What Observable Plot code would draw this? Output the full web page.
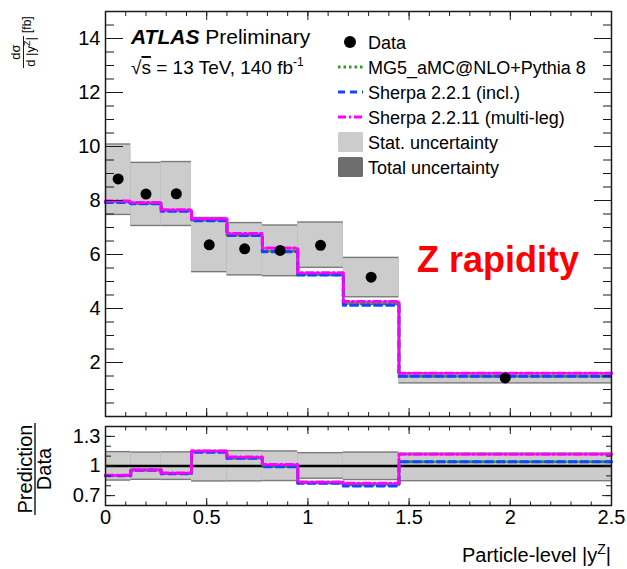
<!DOCTYPE html>
<html><head><meta charset="utf-8">
<script src="https://cdn.jsdelivr.net/npm/d3@7"></script>
<script src="https://cdn.jsdelivr.net/npm/@observablehq/plot@0.6"></script>
<style>
html,body{margin:0;padding:0;background:#fff;}
#wrap{position:relative;width:627px;height:569px;overflow:hidden;background:#fff;}
#wrap > svg{position:absolute;left:0;}
</style></head><body><div id="wrap"></div>
<script>
// ---- data ----
const binEdges   = [0, 0.125, 0.275, 0.425, 0.6, 0.775, 0.95, 1.175, 1.45, 2.5];
const dataValues = [8.80, 8.24, 8.25, 6.36, 6.21, 6.15, 6.34, 5.16, 1.43];
const uncHi      = [10.10, 9.42, 9.45, 7.38, 7.19, 7.10, 7.21, 5.90, 1.62];
const uncLo      = [7.44, 7.03, 7.03, 5.32, 5.20, 5.17, 5.48, 4.39, 1.20];
const mg5        = [7.95, 7.90, 7.62, 7.28, 6.72, 6.13, 5.25, 4.18, 1.49];
const sherpa221  = [7.93, 7.88, 7.60, 7.25, 6.70, 6.10, 5.24, 4.12, 1.49];
const sherpa2211 = [7.98, 7.93, 7.66, 7.32, 6.78, 6.24, 5.32, 4.26, 1.60];
const seriesNames = ["MG5_aMC@NLO+Pythia 8", "Sherpa 2.2.1 (incl.)", "Sherpa 2.2.11 (multi-leg)"];
const seriesColors = ["#2e9a2e", "#1644ff", "#ff00ff"];
const seriesDash = ["2.5,3", "7,5", "8,3,2,3"];
const mainYTicks = [2, 4, 6, 8, 10, 12, 14];
const ratioYTicks = [0.7, 1, 1.3];
const xTicks = [0, 0.5, 1, 1.5, 2, 2.5];

// ---- tick positions ----
const xMinor = d3.range(0, 26).map(i => i / 10);
const mainYMinor = d3.range(0, 31).map(i => i / 2);
const ratioYMinor = d3.range(6, 15).map(i => i / 10);

const font = '"Liberation Sans", Arial, Helvetica, sans-serif';
const ink = "#1a1a1a";
const fmt = d3.format("~g");

const bins = dataValues.map((d, i) => ({
  x1: binEdges[i], x2: binEdges[i + 1], xc: (binEdges[i] + binEdges[i + 1]) / 2,
  data: d, hi: uncHi[i], lo: uncLo[i]
}));
function stepRows(vals, scale) {
  const rows = vals.map((v, i) => ({x: binEdges[i], y: scale ? v / dataValues[i] : v}));
  const n = vals.length;
  rows.push({x: binEdges[n], y: scale ? vals[n - 1] / dataValues[n - 1] : vals[n - 1]});
  return rows;
}
const preds = [mg5, sherpa221, sherpa2211];
function predMarks(scale) {
  return preds.map((vals, k) => Plot.line(stepRows(vals, scale), {
    x: "x", y: "y", curve: "step-after", stroke: seriesColors[k], strokeWidth: 3,
    strokeDasharray: seriesDash[k]
  }));
}
function tickAxes(yMajor, yMinor, yMaj, yMin, xMaj, xMin) {
  const o = {stroke: ink, strokeWidth: 1, label: null, tickFormat: () => ""};
  return [
    Plot.axisY({...o, anchor: "left", ticks: yMajor, tickSize: -yMaj}),
    Plot.axisY({...o, anchor: "left", ticks: yMinor, tickSize: -yMin}),
    Plot.axisY({...o, anchor: "right", ticks: yMajor, tickSize: -yMaj}),
    Plot.axisY({...o, anchor: "right", ticks: yMinor, tickSize: -yMin}),
    Plot.axisX({...o, anchor: "bottom", ticks: xTicks, tickSize: -xMaj}),
    Plot.axisX({...o, anchor: "bottom", ticks: xMinor, tickSize: -xMin}),
    Plot.axisX({...o, anchor: "top", ticks: xTicks, tickSize: -xMaj}),
    Plot.axisX({...o, anchor: "top", ticks: xMinor, tickSize: -xMin})
  ];
}
const style = {fontFamily: font, fontSize: "20px", color: "#000", background: "transparent", overflow: "visible"};

const main = Plot.plot({
  width: 627, height: 420, marginLeft: 105, marginRight: 16, marginTop: 11, marginBottom: 4,
  style,
  x: {domain: [0, 2.5]},
  y: {domain: [0, 15]},
  marks: [
    Plot.rect(bins, {x1: "x1", x2: "x2", y1: "lo", y2: "hi", fill: "#7a7a7a"}),
    Plot.rect(bins, {x1: "x1", x2: "x2", y1: "lo", y2: "hi", fill: "#cccccc", insetTop: 1.4, insetBottom: 1.4}),
    ...predMarks(false),
    Plot.dot(bins, {x: "xc", y: "data", r: 5.5, fill: "#000", stroke: null}),
    ...tickAxes(mainYTicks, mainYMinor, 18, 9, 8, 4),
    Plot.axisY({anchor: "left", ticks: mainYTicks, tickSize: 0, tickPadding: 5, label: null, tickFormat: fmt, fontSize: 20}),
    Plot.frame({stroke: ink, strokeWidth: 1.5})
  ]
});
main.style.top = "0px";

const ratio = Plot.plot({
  width: 627, height: 153, marginLeft: 105, marginRight: 16, marginTop: 10, marginBottom: 64,
  style,
  x: {domain: [0, 2.5]},
  y: {domain: [0.6, 1.4]},
  marks: [
    Plot.rect(bins, {x1: "x1", x2: "x2", y1: d => d.lo / d.data, y2: d => d.hi / d.data, fill: "#7a7a7a"}),
    Plot.rect(bins, {x1: "x1", x2: "x2", y1: d => d.lo / d.data, y2: d => d.hi / d.data, fill: "#cccccc", insetTop: 1.4, insetBottom: 1.4}),
    Plot.ruleY([1], {stroke: "#000", strokeWidth: 2.5}),
    ...predMarks(true),
    ...tickAxes(ratioYTicks, ratioYMinor, 10, 6, 7, 3.5),
    Plot.axisY({anchor: "left", ticks: ratioYTicks, tickSize: 0, tickPadding: 5, label: null, tickFormat: fmt, fontSize: 20}),
    Plot.axisX({anchor: "bottom", ticks: xTicks, tickSize: 0, tickPadding: 4, label: null, tickFormat: fmt, fontSize: 20}),
    Plot.frame({stroke: ink, strokeWidth: 1.5})
  ]
});
ratio.style.top = "416px";

const wrap = document.getElementById("wrap");
wrap.appendChild(main);
wrap.appendChild(ratio);

// ---- annotations, legend and axis titles ----
const NS = "http://www.w3.org/2000/svg";
const ann = document.createElementNS(NS, "svg");
ann.setAttribute("width", 627); ann.setAttribute("height", 569);
ann.style.top = "0px";
ann.setAttribute("font-family", font);
let legend = "";
const rowY = [42, 67, 92, 117, 142, 167];
legend += `<circle cx="350" cy="${rowY[0]}" r="6" fill="#000"/><text x="368" y="${rowY[0] + 6.5}" font-size="18">Data</text>`;
seriesNames.forEach((name, k) => {
  const y = rowY[k + 1];
  legend += `<line x1="338" x2="363" y1="${y}" y2="${y}" stroke="${seriesColors[k]}" stroke-width="3" stroke-dasharray="${seriesDash[k]}"/>`;
  legend += `<text x="368" y="${y + 6.5}" font-size="18">${name}</text>`;
});
legend += `<rect x="338" y="${rowY[4] - 10}" width="25" height="20" rx="1.5" fill="#cccccc"/><text x="368" y="${rowY[4] + 6.5}" font-size="18">Stat. uncertainty</text>`;
legend += `<rect x="338" y="${rowY[5] - 10}" width="25" height="20" rx="1.5" fill="#6e6e6e"/><text x="368" y="${rowY[5] + 6.5}" font-size="18">Total uncertainty</text>`;

ann.innerHTML = `
<text x="131" y="44" font-size="21"><tspan font-weight="bold" font-style="italic">ATLAS</tspan> Preliminary</text>
<text x="131" y="74" font-size="19">√<tspan text-decoration="overline">s</tspan> = 13 TeV, 140 fb<tspan font-size="12" dy="-8">-1</tspan></text>
${legend}
<text x="417" y="272" font-size="36" font-weight="bold" fill="#ff0000">Z rapidity</text>
<g transform="rotate(-90)">
  <text x="-52" y="20" text-anchor="middle" font-size="13">dσ</text>
  <line x1="-68" x2="-36" y1="23.5" y2="23.5" stroke="#000" stroke-width="0.9"/>
  <text x="-52" y="35" text-anchor="middle" font-size="13">d |y<tspan font-size="9" dy="-5">Z</tspan><tspan dy="5">|</tspan></text>
  <text x="-33" y="31" font-size="12">[fb]</text>
  <text x="-469" y="32" text-anchor="middle" font-size="20">Prediction</text>
  <line x1="-515" x2="-423" y1="35" y2="35" stroke="#000" stroke-width="1.3"/>
  <text x="-469" y="51" text-anchor="middle" font-size="20">Data</text>
</g>
<text x="611" y="562" text-anchor="end" font-size="20">Particle-level |y<tspan font-size="14" dy="-8">Z</tspan><tspan dy="8">|</tspan></text>
`;
wrap.appendChild(ann);
</script>
</body></html>
